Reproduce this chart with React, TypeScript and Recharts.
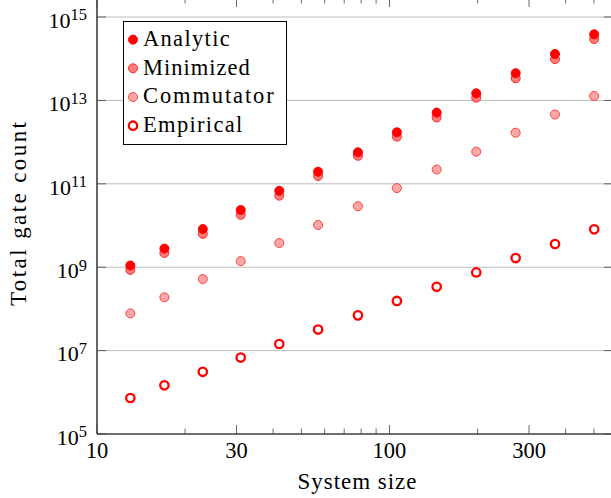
import React from 'react';
import { ScatterChart, Scatter, XAxis, YAxis, CartesianGrid } from 'recharts';

// system sizes (x) shared by all series
const sizes = [13, 17, 23, 31, 42, 57, 78, 106, 145, 198, 270, 368, 501];

const analytic = [1.1e9, 2.8e9, 8.2e9, 2.35e10, 6.8e10, 1.95e11, 5.7e11, 1.72e12, 5.1e12, 1.48e13, 4.5e13, 1.3e14, 3.85e14];
const minimized = [8.6e8, 2.2e9, 6.3e9, 1.8e10, 5.2e10, 1.54e11, 4.7e11, 1.35e12, 3.9e12, 1.16e13, 3.4e13, 9.8e13, 2.97e14];
const commutator = [7.8e7, 1.9e8, 5.2e8, 1.4e9, 3.8e9, 1.03e10, 2.9e10, 7.9e10, 2.2e11, 5.9e11, 1.68e12, 4.6e12, 1.28e13];
const empirical = [7.3e5, 1.47e6, 3.1e6, 6.8e6, 1.44e7, 3.2e7, 7.0e7, 1.55e8, 3.4e8, 7.5e8, 1.66e9, 3.6e9, 8.1e9];

const xMajor = [10, 30, 100, 300];
const xTicks = [10, 20, 30, 40, 50, 60, 70, 80, 90, 100, 200, 300, 400, 500];
const yTicks = [1e5, 1e7, 1e9, 1e11, 1e13, 1e15];

const FONT = "'Liberation Serif', 'DejaVu Serif', serif";
const W = 620;
const H = 502;
const PLOT_LEFT = 97;
const PLOT_RIGHT = 613;
const PLOT_TOP = 0;
const PLOT_BOTTOM = 436;

const toPoints = (vals: number[]) => sizes.map((x, i) => ({ x, y: vals[i] }));

const series = [
  { name: 'Analytic', fill: '#ff0000', stroke: '#ff0000', sw: 1, r: 4.5 },
  { name: 'Minimized', fill: '#ff7c7c', stroke: '#ff1a1a', sw: 0.9, r: 4.5 },
  { name: 'Commutator', fill: '#ffa8a8', stroke: '#ff3030', sw: 0.9, r: 4.5 },
  { name: 'Empirical', fill: '#ffffff', stroke: '#ff0000', sw: 2.3, r: 4.2 },
];
const legendWidths = [86.7, 106.7, 130.7, 99.3];

const txt = { fontFamily: FONT };

const dot = (s: typeof series[number]) => (props: any) => (
  <circle cx={props.cx} cy={props.cy} r={s.r} fill={s.fill} stroke={s.stroke} strokeWidth={s.sw} />
);

const XTick = (props: any) => {
  const { x, payload } = props;
  const v = payload.value;
  const major = xMajor.includes(v);
  const len = major ? 9 : 5.5;
  return (
    <g>
      <line x1={x} x2={x} y1={PLOT_BOTTOM} y2={PLOT_BOTTOM - len} stroke="#444" strokeWidth={0.8} />
      <line x1={x} x2={x} y1={PLOT_TOP} y2={PLOT_TOP + len} stroke="#444" strokeWidth={0.8} />
      {major && (
        <text x={x} y={PLOT_BOTTOM + 24.3} textAnchor="middle" style={txt} fontSize={22.5} fill="#000">
          {v}
        </text>
      )}
    </g>
  );
};

const YTick = (props: any) => {
  const { y, payload } = props;
  const exp = Math.round(Math.log10(payload.value));
  return (
    <g>
      <line x1={PLOT_LEFT} x2={PLOT_LEFT + 9} y1={y} y2={y} stroke="#444" strokeWidth={0.8} />
      <line x1={PLOT_RIGHT} x2={PLOT_RIGHT - 9} y1={y} y2={y} stroke="#444" strokeWidth={0.8} />
      <text x={87} y={y + 10.7} textAnchor="end" style={txt} fontSize={22} fill="#000">
        <tspan>10</tspan>
        <tspan dy={-7.3} fontSize={16.5}>{exp}</tspan>
      </text>
    </g>
  );
};

const LegendBox = () => (
  <div style={{ position: 'absolute', left: 123, top: 21, width: 164, height: 124 }}>
    <svg width={164} height={124}>
      <rect x={0.5} y={0.5} width={163} height={123} fill="#fff" stroke="#000" strokeWidth={1} />
      {series.map((s, i) => {
        const cy = 18.6 + i * 28.7;
        return (
          <g key={s.name}>
            <circle cx={10} cy={cy} r={s.r} fill={s.fill} stroke={s.stroke} strokeWidth={s.sw} />
            <text x={20} y={cy + 6.4} style={txt} fontSize={22.5} textLength={legendWidths[i]} lengthAdjust="spacing">
              {s.name}
            </text>
          </g>
        );
      })}
    </svg>
  </div>
);

export default function App() {
  const [sA, sM, sC, sE] = series;
  return (
    <div style={{ position: 'fixed', left: 0, top: 0, width: 611, height: 498, overflow: 'hidden', background: '#fff', fontFamily: FONT }}>
      <div style={{ position: 'absolute', left: 0, top: -2 }}>
        <ScatterChart width={W} height={H} margin={{ top: 0, right: W - PLOT_RIGHT, bottom: 0, left: 0 }}>
          <CartesianGrid vertical={false} stroke="#bdbdbd" strokeWidth={1} />
          <XAxis
            type="number"
            dataKey="x"
            scale="log"
            domain={[10, 581]}
            allowDataOverflow
            ticks={xTicks}
            interval={0}
            height={H - PLOT_BOTTOM}
            axisLine={{ stroke: '#000', strokeWidth: 1.2 }}
            tickLine={false}
            tick={<XTick />}
          />
          <YAxis
            type="number"
            dataKey="y"
            scale="log"
            domain={[1e5, 2.86e15]}
            allowDataOverflow
            ticks={yTicks}
            interval={0}
            width={PLOT_LEFT}
            axisLine={{ stroke: '#000', strokeWidth: 1.2 }}
            tickLine={false}
            tick={<YTick />}
          />
          <Scatter name="Commutator" data={toPoints(commutator)} shape={dot(sC)} isAnimationActive={false} />
          <Scatter name="Empirical" data={toPoints(empirical)} shape={dot(sE)} isAnimationActive={false} />
          <Scatter name="Minimized" data={toPoints(minimized)} shape={dot(sM)} isAnimationActive={false} />
          <Scatter name="Analytic" data={toPoints(analytic)} shape={dot(sA)} isAnimationActive={false} />
          <text x={357} y={491} textAnchor="middle" style={txt} fontSize={23} textLength={119} lengthAdjust="spacing">
            System size
          </text>
          <text
            x={26}
            y={216}
            transform="rotate(-90, 26, 216)"
            textAnchor="middle"
            style={txt}
            fontSize={23}
            textLength={184}
            lengthAdjust="spacing"
          >
            Total gate count
          </text>
        </ScatterChart>
      </div>
      <LegendBox />
    </div>
  );
}
